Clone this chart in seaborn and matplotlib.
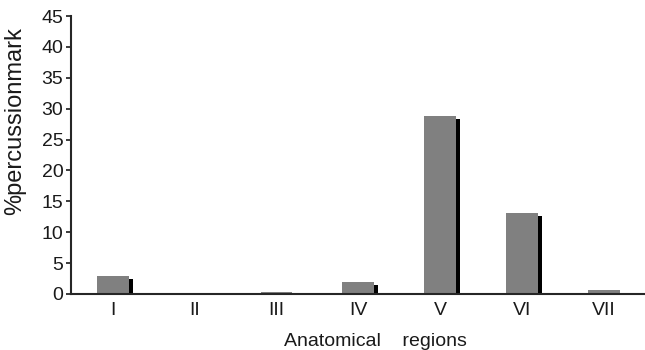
import numpy as np
import pandas as pd
import matplotlib.pyplot as plt
import matplotlib.transforms as mtransforms
import seaborn as sns

# values
regions = ["I", "II", "III", "IV", "V", "VI", "VII"]
percent = [2.9, 0.0, 0.3, 2.0, 28.8, 13.1, 0.6]

df = pd.DataFrame({"region": regions, "percent": percent})

sns.set_style("ticks")
plt.rcParams["font.family"] = ["Liberation Sans", "DejaVu Sans"]

fig = plt.figure(figsize=(6.45, 3.5), dpi=100)
ax = fig.add_axes([0.110, 0.16, 0.890, 0.794])

# shadow bars (black, shifted right and down a few pixels)
sns.barplot(data=df, x="region", y="percent", color="black", width=0.39,
            saturation=1, linewidth=0, ax=ax)
shift = mtransforms.ScaledTranslation(4 / 100, -3 / 100, fig.dpi_scale_trans)
for p in ax.patches:
    p.set_transform(ax.transData + shift)

# main grey bars
sns.barplot(data=df, x="region", y="percent", color="#808080", width=0.39,
            saturation=1, linewidth=0, ax=ax)

ax.set_xlim(-0.51, 6.5)
ax.set_ylim(0, 45)
ax.set_yticks(range(0, 46, 5))

for s in ["top", "right"]:
    ax.spines[s].set_visible(False)
ax.spines["left"].set_linewidth(1.5)
ax.spines["bottom"].set_linewidth(1.5)
ax.tick_params(axis="y", length=3.5, width=1.2, labelsize=14, pad=2,
               colors="#1a1a1a")
ax.tick_params(axis="x", length=0, labelsize=14, pad=6, colors="#1a1a1a")

ax.set_ylabel("%percussionmark", fontsize=17, color="#1a1a1a")
ax.set_xlabel("Anatomical    regions", fontsize=14, color="#1a1a1a")
ax.yaxis.set_label_coords(-0.078, 0.622)
ax.xaxis.set_label_coords(0.53, -0.14)

fig.savefig("out.png", dpi=100)
